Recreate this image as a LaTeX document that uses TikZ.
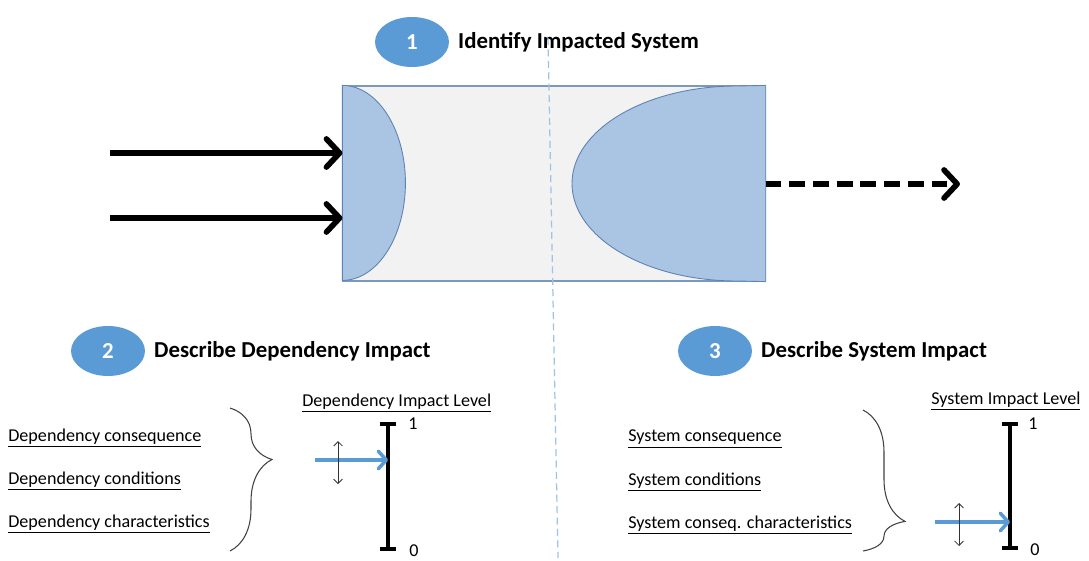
\documentclass[tikz,border=0pt]{standalone}
\usepackage{fontspec}
\setmainfont{Carlito}
\usetikzlibrary{arrows.meta,shapes.geometric,decorations.pathreplacing}

\definecolor{stepblue}{HTML}{5B9BD5}
\definecolor{lightblue}{HTML}{A9C5E3}
\definecolor{edgeblue}{HTML}{5E82B0}
\definecolor{boxgrey}{HTML}{F2F2F2}
\definecolor{boxedge}{HTML}{7B98C2}
\definecolor{splitblue}{HTML}{9DC3E6}

\tikzset{
	stepnum/.style = {ellipse, fill=stepblue, minimum width=1.48cm, minimum height=1cm,
		inner sep=0pt, text=white, font=\fontsize{13}{15}\selectfont\bfseries},
	heading/.style = {anchor=west, font=\fontsize{13}{15}\selectfont\bfseries},
	factor/.style  = {anchor=west, font=\fontsize{10.3}{12}\selectfont, inner sep=0pt},
	tick/.style    = {font=\fontsize{10.3}{12}\selectfont, inner sep=0pt},
	flow/.style    = {line width=3.2pt, -{Straight Barb[length=7.5pt,width=16pt,round]}},
	level/.style   = {line width=2pt},
	push/.style    = {line width=2pt, stepblue, -{Straight Barb[length=4.5pt,width=10pt,round]}},
	updown/.style  = {line width=0.5pt, black!80, {Straight Barb[length=2.5pt,width=5pt]}-{Straight Barb[length=2.5pt,width=5pt]}},
	curly/.style   = {draw=black!75, line width=0.6pt, decorate}
}

\begin{document}
\begin{tikzpicture}[x=0.02cm, y=-0.02cm]
	\useasboundingbox (0,0) rectangle (1089,561);

	% step 1: the system
	\node[stepnum] (s1) at (412,42) {1};
	\node[heading] (h1) at (452,42) {Identify Impacted System};

	\node[draw=boxedge, fill=boxgrey, line width=0.7pt, minimum width=8.44cm, minimum height=3.9cm,
		inner sep=0pt] (sys) at (554,183.5) {};
	\filldraw[fill=lightblue, draw=edgeblue, line width=0.5pt] (sys.north west)
		arc[start angle=-90, end angle=90, x radius=63, y radius=97.5] -- cycle;
	\filldraw[fill=lightblue, draw=edgeblue, line width=0.5pt] (sys.north east) -- (737,86)
		arc[start angle=-90, end angle=-270, x radius=165, y radius=97.5] -- (sys.south east) -- cycle;
	\draw[boxedge, line width=0.7pt] (sys.north east) -- (sys.south east);

	\coordinate (split1) at (548,38);
	\coordinate (split2) at (558,558);
	\draw[splitblue, line width=0.7pt, dash pattern=on 4pt off 2.5pt] (split1) -- (split2);

	\coordinate (in1) at (110,153);
	\coordinate (in2) at (110,218);
	\coordinate (out) at (960,184);
	\draw[flow] (in1) -- (in1 -| sys.west);
	\draw[flow] (in2) -- (in2 -| sys.west);
	\draw[flow, dash pattern=on 9pt off 4.5pt] (out -| sys.east) -- (out);

	% step 2: dependency impact
	\node[stepnum] (s2) at (108,351) {2};
	\node[heading] (h2) at (148,351) {Describe Dependency Impact};

	\node[factor] (dcons) at (8,438) {\underline{Dependency consequence}};
	\node[factor] (dcond) at (8,481) {\underline{Dependency conditions}};
	\node[factor] (dchar) at (8,524) {\underline{Dependency characteristics}};
	\draw[curly, decoration={brace, amplitude=0.84cm, aspect=0.36}] (230,408) -- (230,551);

	\node[factor] (dlev) at (302,403) {\underline{Dependency Impact Level}};
	\coordinate (dtop) at (388,424);
	\coordinate (dbot) at (388,549);
	\draw[level] (dtop) -- (dbot);
	\draw[level] ([xshift=-0.16cm]dtop) -- ([xshift=0.16cm]dtop);
	\draw[level] ([xshift=-0.16cm]dbot) -- ([xshift=0.16cm]dbot);
	\node[tick] (d1) at (413,424) {1};
	\node[tick] (d0) at (414,551) {0};
	\coordinate (dfrom) at (315,460);
	\draw[push] (dfrom) -- (dfrom -| dtop);
	\coordinate (dup) at (338,441);
	\coordinate (ddown) at (338,484);
	\draw[updown] (dup) -- (ddown);

	% step 3: system impact
	\node[stepnum] (s3) at (715,351) {3};
	\node[heading] (h3) at (755,351) {Describe System Impact};

	\node[factor] (scons) at (628,439) {\underline{System consequence}};
	\node[factor] (scond) at (628,482) {\underline{System conditions}};
	\node[factor] (schar) at (628,525) {\underline{System conseq. characteristics}};
	\draw[curly, decoration={brace, amplitude=0.84cm, aspect=0.79}] (863,410) -- (863,551);

	\node[factor] (slev) at (931,401) {\underline{System Impact Level}};
	\coordinate (stop) at (1010,424);
	\coordinate (sbot) at (1010,548);
	\draw[level] (stop) -- (sbot);
	\draw[level] ([xshift=-0.16cm]stop) -- ([xshift=0.16cm]stop);
	\draw[level] ([xshift=-0.16cm]sbot) -- ([xshift=0.16cm]sbot);
	\node[tick] (s1v) at (1033,424) {1};
	\node[tick] (s0v) at (1035,550) {0};
	\coordinate (sfrom) at (935,522);
	\draw[push] (sfrom) -- (sfrom -| stop);
	\coordinate (sup) at (959,503);
	\coordinate (sdown) at (959,546);
	\draw[updown] (sup) -- (sdown);
\end{tikzpicture}
\end{document}
